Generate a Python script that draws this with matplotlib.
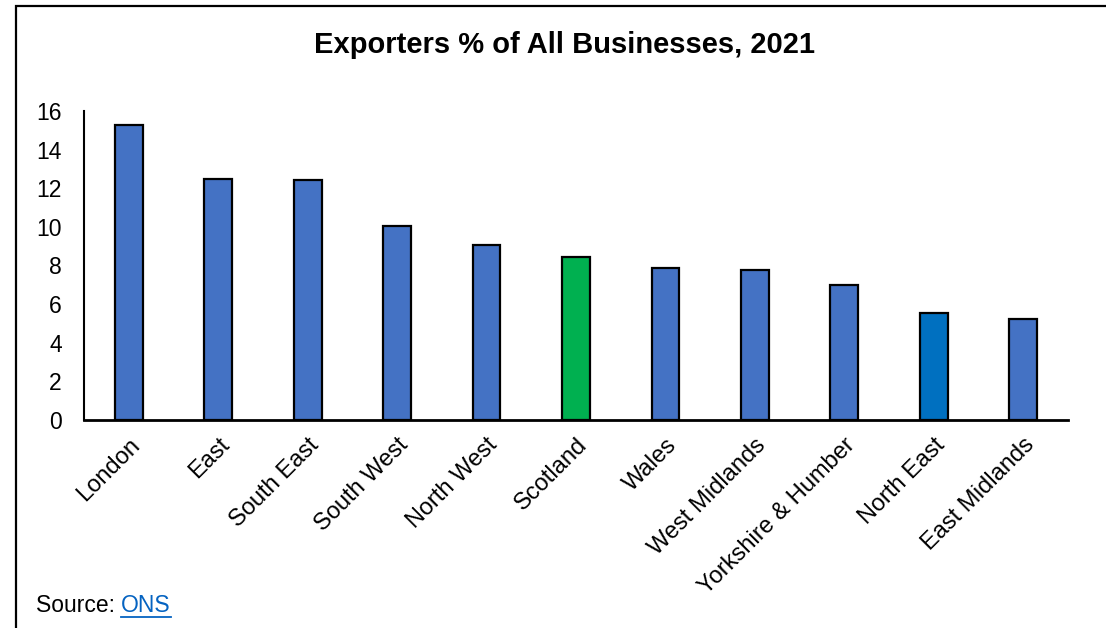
import matplotlib
matplotlib.use("Agg")
import matplotlib.pyplot as plt
from matplotlib.patches import Rectangle

regions = ["London", "East", "South East", "South West", "North West", "Scotland",
           "Wales", "West Midlands", "Yorkshire & Humber", "North East", "East Midlands"]
share = [15.3, 12.5, 12.45, 10.05, 9.05, 8.45, 7.85, 7.75, 7.0, 5.55, 5.25]
yticks = [0, 2, 4, 6, 8, 10, 12, 14, 16]

BLUE, GREEN, DARK = "#4472C4", "#00B050", "#0070C0"
colours = [GREEN if r == "Scotland" else DARK if r == "North East" else BLUE for r in regions]

plt.rcParams["font.family"] = ["Liberation Sans", "DejaVu Sans"]

W, H = 1106, 628
fig = plt.figure(figsize=(W / 100, H / 100), dpi=100)
ax = fig.add_axes([84 / W, 1 - 420 / H, (1068 - 84) / W, (420 - 111) / H])

x = range(len(regions))
ax.bar(x, share, width=0.31, color=colours, edgecolor="black", linewidth=1.6, zorder=3)
ax.set_xlim(-0.5, len(regions) - 0.5)
ax.set_ylim(0, 16)
ax.set_yticks(yticks)
ax.set_xticks(list(x))
ax.set_xticklabels(regions, rotation=45, ha="right", rotation_mode="anchor", fontsize=17)
ax.tick_params(axis="y", length=0, pad=16, labelsize=16.5)
ax.tick_params(axis="x", length=0, pad=10)
for s in ("top", "right"):
    ax.spines[s].set_visible(False)
ax.spines["left"].set_linewidth(1.5)
ax.spines["bottom"].set_linewidth(2)

fig.text(565 / W, 1 - 45 / H, "Exporters % of All Businesses, 2021",
         ha="center", va="center", fontsize=21, fontweight="bold")

# "Source: ONS" with underlined link colour on ONS
src = fig.text(36 / W, 1 - 606 / H, "Source: ", ha="left", va="center", fontsize=16.5)
fig.canvas.draw()
bb = src.get_window_extent()
link = fig.text(bb.x1 / W, 1 - 606 / H, "ONS", ha="left", va="center", fontsize=16.5,
                color="#0563C1")
fig.canvas.draw()
lb = link.get_window_extent()
fig.add_artist(plt.Line2D([lb.x0 / W, lb.x1 / W], [(lb.y0 + 1) / H] * 2,
                          color="#0563C1", linewidth=1.3))

# outer chart frame (left and top edges visible)
fig.add_artist(Rectangle((16 / W, -0.1), 1.2, 1.1 - 6 / H, transform=fig.transFigure,
                         fill=False, edgecolor="black", linewidth=1.6))

fig.savefig("out.png", dpi=100, facecolor="white")
